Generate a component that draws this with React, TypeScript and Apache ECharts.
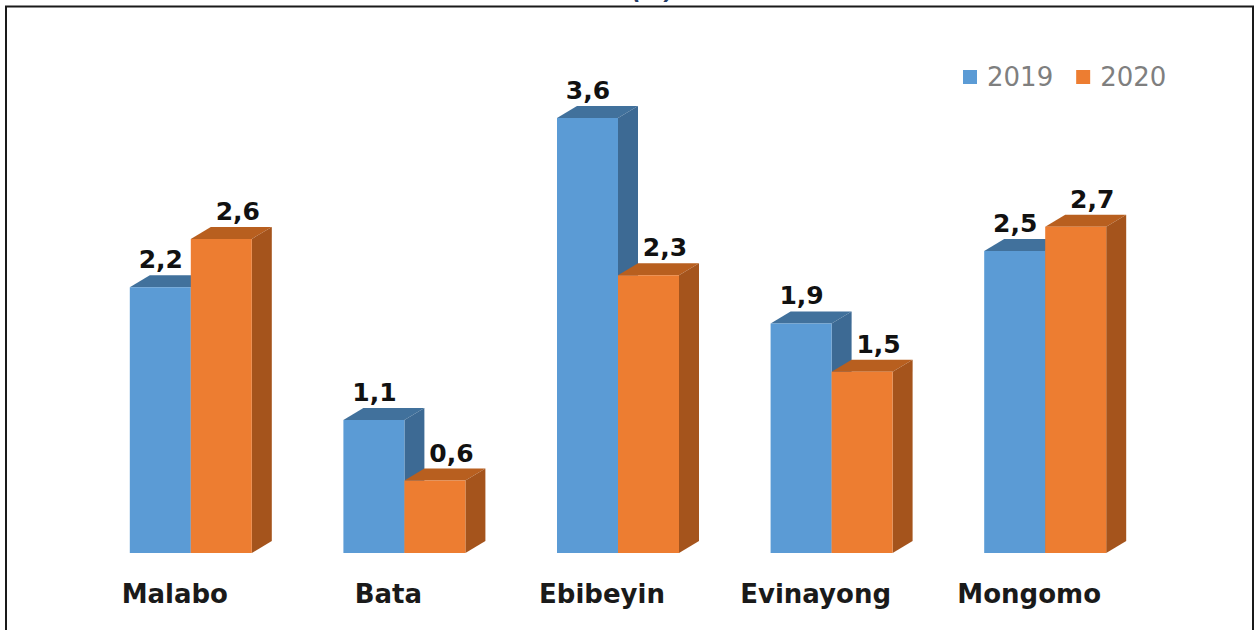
import React, { useEffect, useRef } from "react";
import * as echarts from "echarts";

const categories = ["Malabo", "Bata", "Ebibeyin", "Evinayong", "Mongomo"];
const values2019 = [2.2, 1.1, 3.6, 1.9, 2.5];
const values2020 = [2.6, 0.6, 2.3, 1.5, 2.7];

const LEFT = 84;
const BAND = 213.6;
const BASE = 553;
const UNIT = 120.8;
const BARW = 61;
const DX = 20;
const DY = 12;
const FONT = "'DejaVu Sans', sans-serif";

function bar3d(seriesSide: number, labelOffset: number, front: string, top: string, side: string) {
  return (_p: any, api: any) => {
    const i = api.value(0);
    const v = api.value(1);
    const [cx, y0] = api.coord([i, 0]);
    const [, y1] = api.coord([i, v]);
    const x0 = seriesSide < 0 ? cx - BARW : cx;
    const x1 = x0 + BARW;
    return {
      type: "group",
      children: [
        { type: "polygon", shape: { points: [[x0, y1], [x0 + DX, y1 - DY], [x1 + DX, y1 - DY], [x1, y1]] }, style: { fill: top } },
        { type: "polygon", shape: { points: [[x1, y1], [x1 + DX, y1 - DY], [x1 + DX, y0 - DY], [x1, y0]] }, style: { fill: side } },
        { type: "rect", shape: { x: x0, y: y1, width: BARW, height: y0 - y1 }, style: { fill: front } },
        {
          type: "text",
          x: x0 + labelOffset,
          y: y1 - DY - 3,
          z2: 10,
          style: {
            text: v.toFixed(1).replace(".", ","),
            fill: "#111111",
            font: `bold 25px ${FONT}`,
            textAlign: "center",
            textVerticalAlign: "bottom",
          },
        },
      ],
    };
  };
}

export default function App() {
  const ref = useRef<HTMLDivElement>(null);
  useEffect(() => {
    const chart = echarts.init(ref.current!, undefined, { renderer: "svg" });
    chart.setOption({
      animation: false,
      backgroundColor: "#ffffff",
      grid: { left: LEFT, width: BAND * 5, top: BASE - UNIT * 4, height: UNIT * 4 },
      legend: {
        top: 59,
        left: 958,
        itemWidth: 14,
        itemHeight: 14,
        itemGap: 23,
        icon: "rect",
        textStyle: { fontSize: 26, color: "#7f7f7f", fontFamily: FONT, padding: [0, 0, 0, 5] },
        data: ["2019", "2020"],
      },
      xAxis: {
        type: "category",
        data: categories,
        axisLine: { show: false },
        axisTick: { show: false },
        axisLabel: {
          color: "#1a1a1a",
          fontSize: 26,
          fontWeight: "bold",
          fontFamily: FONT,
          margin: 28,
          padding: [0, 32, 0, 0],
          interval: 0,
        },
      },
      yAxis: { type: "value", min: 0, max: 4, show: false, splitLine: { show: false } },
      graphic: [
        {
          type: "polyline",
          silent: true,
          shape: { points: [[6, 630], [6, 6.5], [1253, 6.5], [1253, 630]] },
          style: { fill: "none", stroke: "#1a1a1a", lineWidth: 2 },
        },
        {
          type: "text",
          silent: true,
          x: 632,
          y: 2,
          style: {
            text: "(%)",
            fill: "#1f3864",
            font: `italic bold 22px ${FONT}`,
            textVerticalAlign: "bottom",
          },
        },
      ],
      series: [
        {
          type: "custom",
          name: "2019",
          itemStyle: { color: "#5b9bd5" },
          renderItem: bar3d(-1, 31, "#5b9bd5", "#41719c", "#3d6a94"),
          encode: { x: 0, y: 1 },
          data: values2019.map((v, i) => [i, v]),
        },
        {
          type: "custom",
          name: "2020",
          itemStyle: { color: "#ed7d31" },
          renderItem: bar3d(1, 47, "#ed7d31", "#b85f1f", "#a5541c"),
          encode: { x: 0, y: 1 },
          data: values2020.map((v, i) => [i, v]),
        },
      ],
    });
    return () => chart.dispose();
  }, []);
  return <div ref={ref} style={{ position: "fixed", left: 0, top: 0, width: 1259, height: 630 }} />;
}
